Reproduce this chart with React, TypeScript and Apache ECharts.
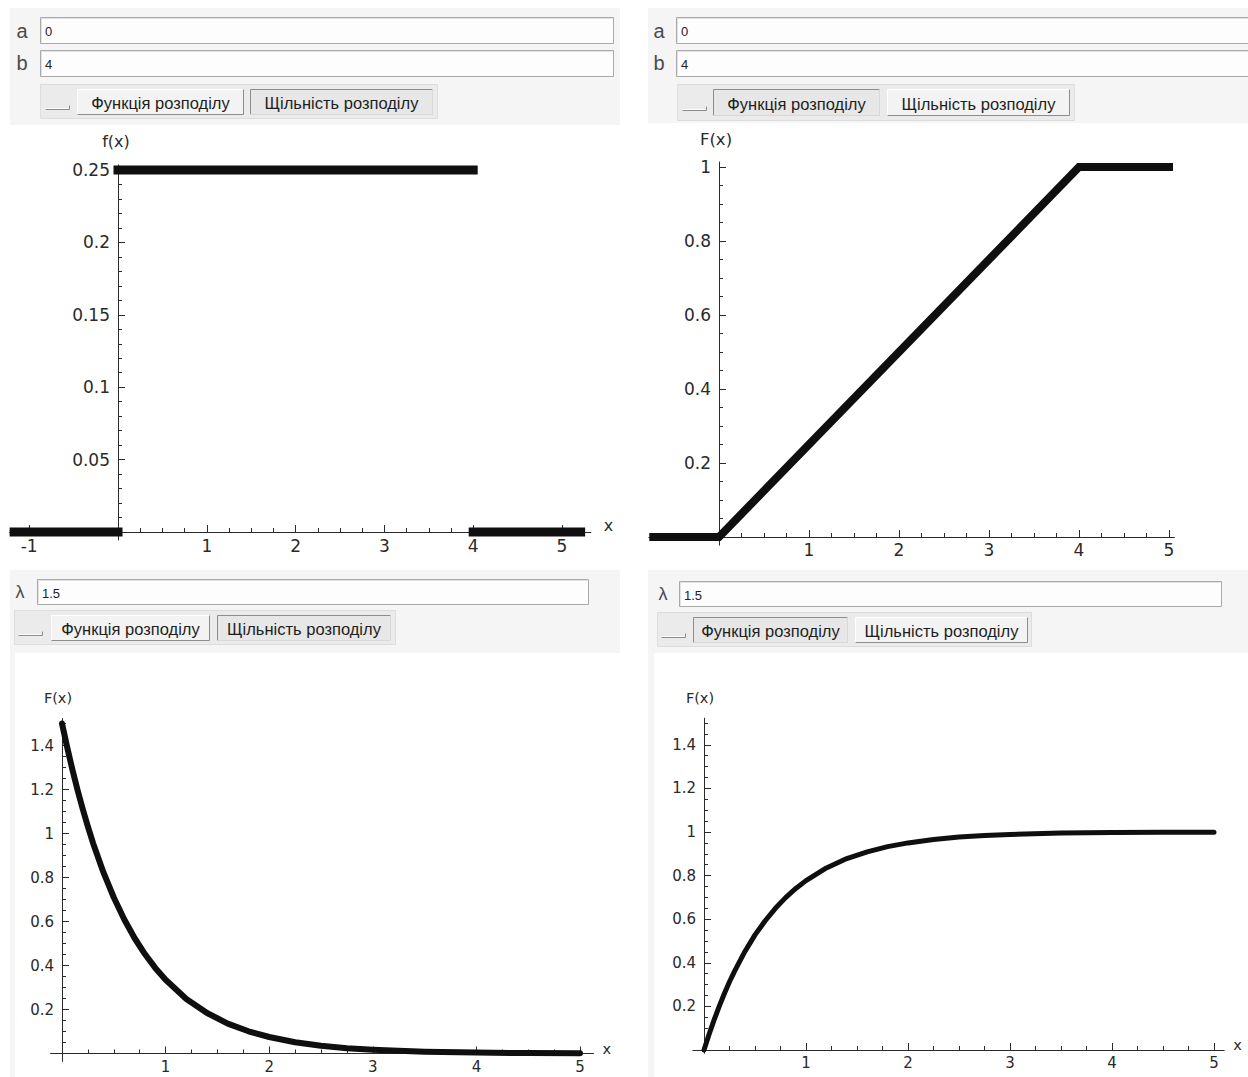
import React, { useEffect, useRef } from "react";
import * as echarts from "echarts";

// ---------- Data ----------
// Plot 1: uniform density on [a, b] = [0, 4]
const densLeftX = [-1.17, 0];
const densLeftY = [0, 0];
const densTopX = [0, 4];
const densTopY = [0.25, 0.25];
const densRightX = [4, 5.21];
const densRightY = [0, 0];

// Plot 2: uniform distribution function
const cdfUniX = [-0.73, 0, 4, 5];
const cdfUniY = [0, 0, 1, 1];

// Plots 3 & 4: exponential, lambda = 1.5
const expX = [0, 0.05, 0.1, 0.15, 0.2, 0.25, 0.3, 0.4, 0.5, 0.6, 0.7, 0.8, 0.9, 1, 1.2, 1.4, 1.6, 1.8, 2, 2.25, 2.5, 2.75, 3, 3.5, 4, 4.5, 5];
const expDensY = [1.5, 1.392, 1.291, 1.198, 1.111, 1.031, 0.956, 0.823, 0.709, 0.61, 0.525, 0.452, 0.389, 0.335, 0.248, 0.184, 0.136, 0.101, 0.075, 0.051, 0.035, 0.024, 0.017, 0.008, 0.004, 0.002, 0.001];
const expCdfY = [0, 0.072, 0.139, 0.201, 0.259, 0.313, 0.362, 0.451, 0.528, 0.593, 0.65, 0.699, 0.741, 0.777, 0.835, 0.878, 0.909, 0.933, 0.95, 0.966, 0.977, 0.984, 0.989, 0.995, 0.998, 0.999, 0.999];

// Tick labels
const p1XTicks = [-1, 1, 2, 3, 4, 5];
const p1YTicks = [0.05, 0.1, 0.15, 0.2, 0.25];
const p2XTicks = [1, 2, 3, 4, 5];
const p2YTicks = [0.2, 0.4, 0.6, 0.8, 1];
const p3XTicks = [1, 2, 3, 4, 5];
const p3YTicks = [0.2, 0.4, 0.6, 0.8, 1, 1.2, 1.4];
const p4XTicks = [1, 2, 3, 4, 5];
const p4YTicks = [0.2, 0.4, 0.6, 0.8, 1, 1.2, 1.4];

// Widget texts
const labelA = "a";
const labelB = "b";
const labelLambda = "λ";
const valueA = "0";
const valueB = "4";
const valueLambda = "1.5";
const btnSmall = "";
const btnCdf = "Функція розподілу";
const btnPdf = "Щільність розподілу";

// ---------- Styling ----------
const AX = "#2a2a2a";
const TXT = "#2a2a2a";
const LINE = "#0f0f0f";
const TICKFONT = "DejaVu Sans";
const UIFONT = "Liberation Sans";

function minorTicks(lo: number, hi: number, step: number, majors: number[]) {
  const out: number[] = [];
  const start = Math.ceil(lo / step - 1e-9);
  for (let i = start; i * step <= hi + 1e-9; i++) {
    const v = Math.round(i * step * 1e6) / 1e6;
    if (v === 0) continue;
    if (majors.some((m) => Math.abs(m - v) < 1e-9)) continue;
    out.push(v);
  }
  return out;
}

const zip = (xs: number[], ys: number[]) => xs.map((x, i) => [x, ys[i]]);

type Plot = {
  ox: number; oy: number; sx: number; sy: number;
  xr: [number, number]; yr: [number, number];
  fs: number; nfs: number;
  xTicks: number[]; yTicks: number[];
  xMinor: number; yMinor: number;
  xName: string; yName: string;
  xNameGap: number; xNameLH: number;
  yNameGap: number; yNamePadR: number;
  xLabelMargin: number; yLabelMargin: number;
  series: { xs: number[]; ys: number[]; width: number; cap: string }[];
};

const plots: Plot[] = [
  {
    ox: 118, oy: 532, sx: 88.8, sy: 1448,
    xr: [-1.22, 5.325], yr: [-0.0055, 0.2535],
    fs: 17, nfs: 16, xTicks: p1XTicks, yTicks: p1YTicks, xMinor: 0.25, yMinor: 0.01,
    xName: "x", yName: "f(x)", xNameGap: 13, xNameLH: 13, yNameGap: 15, yNamePadR: 4,
    xLabelMargin: 5, yLabelMargin: 8,
    series: [
      { xs: densLeftX, ys: densLeftY, width: 9, cap: "square" },
      { xs: densTopX, ys: densTopY, width: 9, cap: "square" },
      { xs: densRightX, ys: densRightY, width: 9, cap: "square" },
    ],
  },
  {
    ox: 719, oy: 537, sx: 90, sy: 370,
    xr: [-0.78, 5.06], yr: [-0.022, 1.0135],
    fs: 17, nfs: 16.5, xTicks: p2XTicks, yTicks: p2YTicks, xMinor: 0.25, yMinor: 0.05,
    xName: "", yName: "F(x)", xNameGap: 14, xNameLH: 12, yNameGap: 14, yNamePadR: 6,
    xLabelMargin: 4, yLabelMargin: 8,
    series: [{ xs: cdfUniX, ys: cdfUniY, width: 8, cap: "square" }],
  },
  {
    ox: 62, oy: 1053.5, sx: 103.6, sy: 220,
    xr: [-0.11, 5.13], yr: [-0.036, 1.523],
    fs: 15, nfs: 14.5, xTicks: p3XTicks, yTicks: p3YTicks, xMinor: 0.25, yMinor: 0.05,
    xName: "x", yName: "F(x)", xNameGap: 9, xNameLH: 9, yNameGap: 13, yNamePadR: 8,
    xLabelMargin: 6, yLabelMargin: 8,
    series: [{ xs: expX, ys: expDensY, width: 6, cap: "round" }],
  },
  {
    ox: 704, oy: 1050, sx: 102, sy: 218,
    xr: [-0.11, 5.1], yr: [-0.015, 1.522],
    fs: 15, nfs: 14.5, xTicks: p4XTicks, yTicks: p4YTicks, xMinor: 0.25, yMinor: 0.05,
    xName: "x", yName: "F(x)", xNameGap: 9, xNameLH: 11, yNameGap: 13, yNamePadR: 8,
    xLabelMargin: 5, yLabelMargin: 8,
    series: [{ xs: expX, ys: expCdfY, width: 5, cap: "round" }],
  },
];

// ---------- Widget graphics ----------
function textEl(x: number, y: number, text: string, font: string, fill: string, align = "left") {
  return {
    type: "text", x, y, silent: true,
    style: { text, font, fill, textAlign: align, textVerticalAlign: "middle" },
  };
}

function rectEl(x: number, y: number, w: number, h: number, fill: string, stroke?: string) {
  return {
    type: "rect", silent: true,
    shape: { x: stroke ? x + 0.5 : x, y: stroke ? y + 0.5 : y, width: stroke ? w - 1 : w, height: stroke ? h - 1 : h },
    style: stroke ? { fill, stroke, lineWidth: 1 } : { fill },
  };
}

function lineEl(pts: number[][], stroke: string) {
  return { type: "polyline", silent: true, shape: { points: pts }, style: { stroke, lineWidth: 1, fill: null } };
}

function inputBox(x: number, y: number, w: number, h: number, value: string) {
  return [
    rectEl(x, y, w, h, "#fdfdfd", "#a9a9a9"),
    lineEl([[x + 1.5, y + h - 1.5], [x + 1.5, y + 1.5], [x + w - 1.5, y + 1.5]], "#e2e2e2"),
    textEl(x + 5, y + h / 2 + 1, value, `13px "${UIFONT}"`, "#222"),
  ];
}

function button(x: number, y: number, w: number, h: number, label: string, pressed: boolean) {
  const dark = "#8c8c8c";
  const light = "#ffffff";
  const tl = pressed ? dark : light;
  const br = pressed ? "#d8d8d8" : dark;
  return [
    rectEl(x, y, w, h, pressed ? "#e7e7e7" : "#f3f3f3"),
    lineEl([[x + 0.5, y + h - 0.5], [x + 0.5, y + 0.5], [x + w - 0.5, y + 0.5]], tl),
    lineEl([[x + 0.5, y + h - 0.5], [x + w - 0.5, y + h - 0.5], [x + w - 0.5, y + 0.5]], br),
    textEl(x + w / 2, y + h / 2 + 1, label, `16.5px "${UIFONT}"`, "#1e1e1e", "center"),
  ];
}

function smallButton(x: number, y: number, w: number, h: number, label: string) {
  return [
    lineEl([[x + 0.5, y + h - 0.5], [x + w - 0.5, y + h - 0.5], [x + w - 0.5, y + h - 4.5]], "#8c8c8c"),
    lineEl([[x + 0.5, y + h - 1.5], [x + w - 1.5, y + h - 1.5]], "#ffffff"),
    textEl(x + w / 2, y + h / 2, label, `12px "${UIFONT}"`, "#222", "center"),
  ];
}

function buildGraphics() {
  const g: any[] = [];
  const PANEL = "#f5f5f5";
  const GROUP = "#ebebeb";
  const LBLFONT = `20px "${UIFONT}"`;
  const LBLCOL = "#4a4a4a";

  // Panel 1 (top-left)
  g.push(rectEl(10, 8, 610, 117, PANEL));
  g.push(textEl(22, 31, labelA, LBLFONT, LBLCOL, "center"));
  g.push(...inputBox(40, 17, 574, 27, valueA));
  g.push(textEl(22, 63, labelB, LBLFONT, LBLCOL, "center"));
  g.push(...inputBox(40, 50, 574, 27, valueB));
  g.push(rectEl(40, 84, 398, 35, GROUP, "#dddddd"));
  g.push(...smallButton(45, 92, 25, 18, btnSmall));
  g.push(...button(77, 89, 167, 26, btnCdf, false));
  g.push(...button(250, 89, 183, 26, btnPdf, true));

  // Panel 2 (top-right)
  g.push(rectEl(648, 8, 600, 115, PANEL));
  g.push(textEl(659, 31, labelA, LBLFONT, LBLCOL, "center"));
  g.push(...inputBox(676, 17, 590, 27, valueA));
  g.push(textEl(659, 63, labelB, LBLFONT, LBLCOL, "center"));
  g.push(...inputBox(676, 50, 590, 27, valueB));
  g.push(rectEl(677, 84, 398, 37, GROUP, "#dddddd"));
  g.push(...smallButton(682, 93, 25, 18, btnSmall));
  g.push(...button(713, 89, 167, 27, btnCdf, true));
  g.push(...button(887, 89, 183, 27, btnPdf, false));

  // Panel 3 (bottom-left)
  g.push(rectEl(10, 570, 610, 83, PANEL));
  g.push(rectEl(10, 653, 5, 424, PANEL));
  g.push(textEl(20, 592, labelLambda, `18px "${UIFONT}"`, LBLCOL, "center"));
  g.push(...inputBox(37, 579, 552, 26, valueLambda));
  g.push(rectEl(14, 610, 382, 35, GROUP, "#dddddd"));
  g.push(...smallButton(18, 618, 25, 18, btnSmall));
  g.push(...button(51, 615, 159, 26, btnCdf, false));
  g.push(...button(217, 615, 174, 26, btnPdf, true));

  // Panel 4 (bottom-right)
  g.push(rectEl(648, 570, 600, 83, PANEL));
  g.push(rectEl(648, 653, 6, 424, PANEL));
  g.push(textEl(663, 594, labelLambda, `18px "${UIFONT}"`, LBLCOL, "center"));
  g.push(...inputBox(679, 581, 543, 26, valueLambda));
  g.push(rectEl(657, 612, 375, 35, GROUP, "#dddddd"));
  g.push(...smallButton(661, 620, 25, 18, btnSmall));
  g.push(...button(693, 617, 155, 26, btnCdf, true));
  g.push(...button(855, 617, 173, 26, btnPdf, false));

  return g;
}

// ---------- Option ----------
function buildOption() {
  const grid: any[] = [];
  const xAxis: any[] = [];
  const yAxis: any[] = [];
  const series: any[] = [];

  plots.forEach((p, k) => {
    grid.push({
      left: p.ox + p.xr[0] * p.sx,
      top: p.oy - p.yr[1] * p.sy,
      width: (p.xr[1] - p.xr[0]) * p.sx,
      height: (p.yr[1] - p.yr[0]) * p.sy,
      containLabel: false,
      outerBoundsMode: "none",
    });
    const xi = 2 * k;
    const yi = 2 * k;
    const xOff = p.yr[0] * p.sy; // negative: moves the x axis up onto y = 0
    const yOff = p.xr[0] * p.sx; // negative: moves the y axis right onto x = 0
    const labelStyle = { color: TXT, fontSize: p.fs, fontFamily: TICKFONT };
    xAxis.push({
      type: "value", gridIndex: k, position: "bottom", offset: xOff,
      min: p.xr[0], max: p.xr[1],
      axisLine: { show: true, onZero: false, lineStyle: { color: AX, width: 1 } },
      axisTick: { show: true, inside: true, length: 7, customValues: p.xTicks, lineStyle: { color: AX, width: 1 } },
      axisLabel: { show: true, customValues: p.xTicks, margin: p.xLabelMargin, formatter: (v: number) => String(v), ...labelStyle },
      splitLine: { show: false }, minorTick: { show: false },
      name: p.xName, nameLocation: "end", nameGap: p.xNameGap,
      nameTextStyle: { color: TXT, fontSize: p.nfs, fontFamily: TICKFONT, verticalAlign: "bottom", lineHeight: p.xNameLH },
    });
    xAxis.push({
      type: "value", gridIndex: k, position: "bottom", offset: xOff,
      min: p.xr[0], max: p.xr[1],
      axisLine: { show: false, onZero: false },
      axisTick: { show: true, inside: true, length: 4, customValues: minorTicks(p.xr[0], p.xr[1], p.xMinor, p.xTicks), lineStyle: { color: AX, width: 1 } },
      axisLabel: { show: false }, splitLine: { show: false },
    });
    yAxis.push({
      type: "value", gridIndex: k, position: "left", offset: yOff,
      min: p.yr[0], max: p.yr[1],
      axisLine: { show: true, onZero: false, lineStyle: { color: AX, width: 1 } },
      axisTick: { show: true, inside: true, length: 7, customValues: p.yTicks, lineStyle: { color: AX, width: 1 } },
      axisLabel: { show: true, customValues: p.yTicks, margin: p.yLabelMargin, formatter: (v: number) => String(v), ...labelStyle },
      splitLine: { show: false }, minorTick: { show: false },
      name: p.yName, nameLocation: "end", nameGap: p.yNameGap,
      nameTextStyle: { color: TXT, fontSize: p.nfs, fontFamily: TICKFONT, padding: [0, p.yNamePadR, 0, 0] },
    });
    yAxis.push({
      type: "value", gridIndex: k, position: "left", offset: yOff,
      min: p.yr[0], max: p.yr[1],
      axisLine: { show: false, onZero: false },
      axisTick: { show: true, inside: true, length: 4, customValues: minorTicks(p.yr[0], p.yr[1], p.yMinor, p.yTicks), lineStyle: { color: AX, width: 1 } },
      axisLabel: { show: false }, splitLine: { show: false },
    });
    p.series.forEach((s) => {
      series.push({
        type: "line", xAxisIndex: xi, yAxisIndex: yi,
        data: zip(s.xs, s.ys),
        symbol: "none", showSymbol: false, clip: false, silent: true,
        smooth: false,
        lineStyle: { color: LINE, width: s.width, cap: s.cap, join: s.cap === "round" ? "round" : "miter" },
        z: 3,
      });
    });
  });

  return {
    animation: false,
    backgroundColor: "#ffffff",
    graphic: { elements: buildGraphics() },
    grid, xAxis, yAxis, series,
  };
}

export default function App() {
  const ref = useRef<HTMLDivElement>(null);
  useEffect(() => {
    if (!ref.current) return;
    const chart = echarts.init(ref.current, undefined, { renderer: "svg" });
    chart.setOption(buildOption() as any);
    return () => chart.dispose();
  }, []);
  return (
    <div
      ref={ref}
      style={{ position: "absolute", left: 0, top: 0, width: 1248, height: 1077 }}
    />
  );
}
